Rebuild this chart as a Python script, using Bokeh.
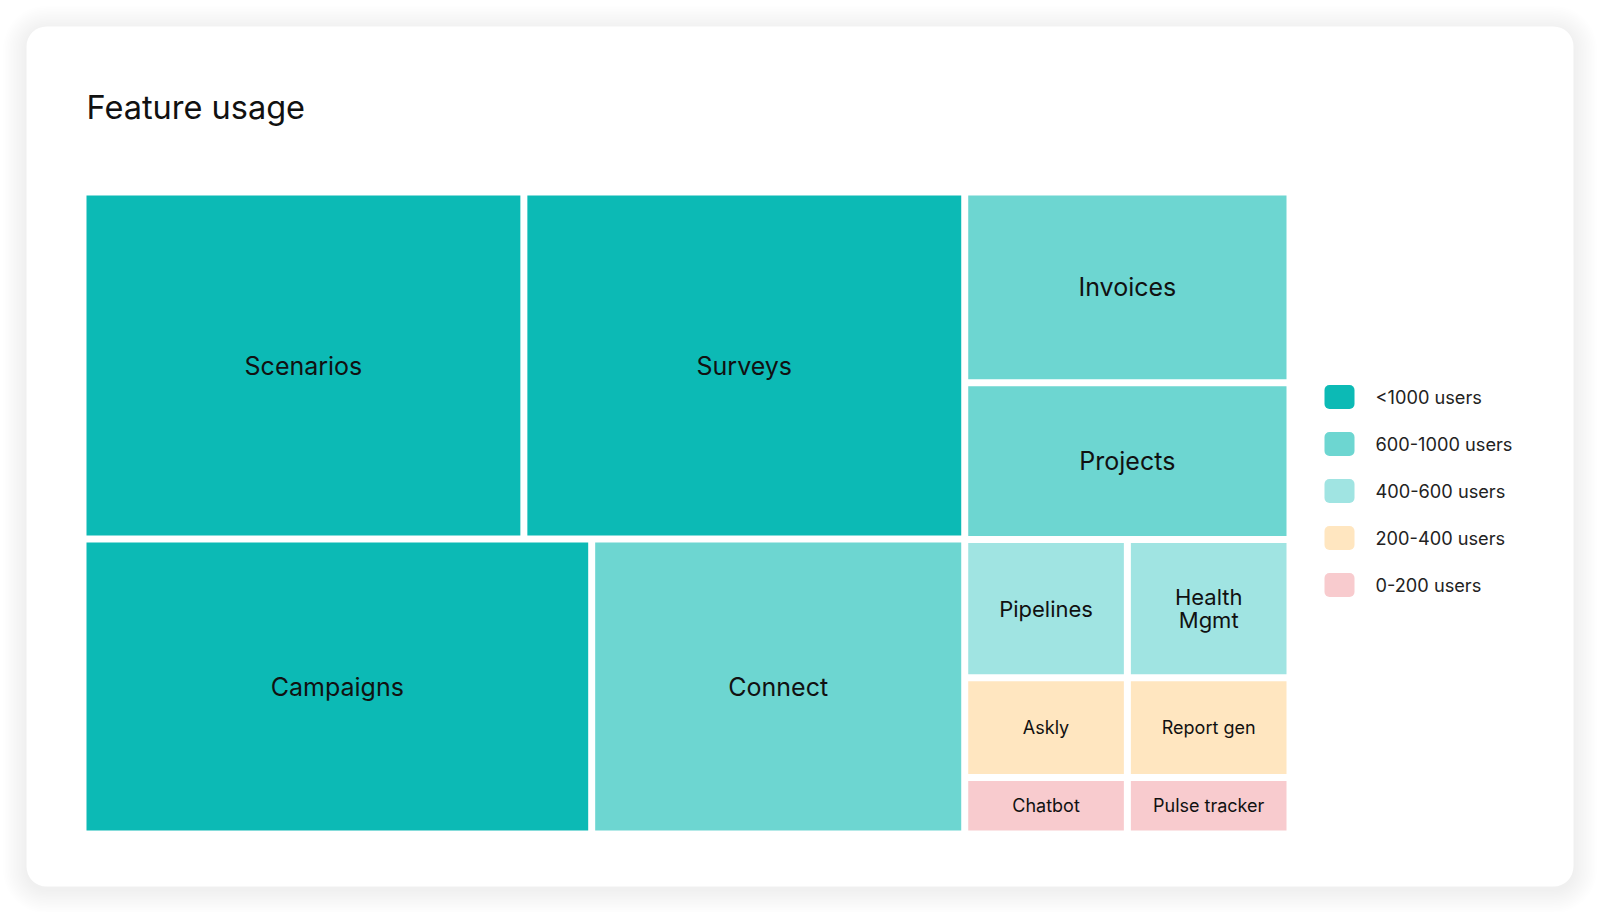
from bokeh.plotting import figure
from bokeh.models import Range1d, BoxAnnotation, ColumnDataSource
from bokeh.core.properties import value
from bokeh.embed import file_html
from bokeh.resources import INLINE

# ---------------- data ----------------
title = "Feature usage"
names = ["Scenarios", "Surveys", "Campaigns", "Connect", "Invoices", "Projects",
         "Pipelines", "Health\nMgmt", "Askly", "Report gen", "Chatbot", "Pulse tracker"]
# relative cell sizes
weights = [1530, 1530, 1500, 1100, 620, 510, 225, 225, 162, 162, 92, 92]
# usage tier index of each feature
tiers = [0, 0, 0, 1, 1, 1, 2, 2, 3, 3, 4, 4]
tier_labels = ["<1000 users", "600-1000 users", "400-600 users", "200-400 users", "0-200 users"]
tier_colors = ["#0cbab5", "#6dd6d1", "#a0e4e2", "#ffe6c0", "#f8cbce"]

# arrangement of the treemap (h = side by side, v = stacked)
tree = ("h", [("v", [("h", [0, 1]), ("h", [2, 3])]),
              ("v", [4, 5, ("h", [6, 7]), ("h", [8, 9]), ("h", [10, 11])])])

# ---------------- layout ----------------
GAP = 7
X0, X1, Y0, Y1 = 86 - GAP / 2, 1286 + GAP / 2, 195 - GAP / 2, 830 + GAP / 2


def total(node):
    if isinstance(node, int):
        return weights[node]
    return sum(total(c) for c in node[1])


cells = {}


def place(node, x0, x1, y0, y1):
    if isinstance(node, int):
        cells[node] = (x0, x1, y0, y1)
        return
    orient, children = node
    s = sum(total(c) for c in children)
    pos = x0 if orient == "h" else y0
    for c in children:
        frac = total(c) / s
        if orient == "h":
            w = (x1 - x0) * frac
            place(c, pos, pos + w, y0, y1)
            pos += w
        else:
            h = (y1 - y0) * frac
            place(c, x0, x1, pos, pos + h)
            pos += h


place(tree, X0, X1, Y0, Y1)

left, right, top, bottom, cx, cy, fs, col = [], [], [], [], [], [], [], []
for i in range(len(names)):
    x0, x1, y0, y1 = cells[i]
    l, r, t, b = x0 + GAP / 2, x1 - GAP / 2, y0 + GAP / 2, y1 - GAP / 2
    left.append(l); right.append(r); top.append(t); bottom.append(b)
    cx.append((l + r) / 2); cy.append((t + b) / 2)
    h = b - t
    fs.append("25px" if h > 140 else ("22px" if h > 100 else "18px"))
    col.append(tier_colors[tiers[i]])

src = ColumnDataSource(dict(left=left, right=right, top=top, bottom=bottom,
                            cx=cx, cy=cy, fs=fs, col=col, name=names))

W, H = 1600, 912
p = figure(width=W, height=H, output_backend="svg", toolbar_location=None,
           x_range=Range1d(0, W), y_range=Range1d(H, 0),
           min_border=0, outline_line_color=None,
           background_fill_color="#ffffff", border_fill_color="#ffffff")
p.axis.visible = False
p.grid.visible = False

# card shadow
CL, CR, CT, CB = 26, 1573, 26, 886
for k in range(1, 16):
    s = k * 1.6
    p.add_layout(BoxAnnotation(left=CL - s, right=CR + s, top=CT - s + 3, bottom=CB + s + 3,
                               fill_color="black", fill_alpha=0.0045, line_color=None,
                               border_radius=int(round(20 + s)), level="underlay"))
p.add_layout(BoxAnnotation(left=CL, right=CR, top=CT, bottom=CB, fill_color="white",
                           fill_alpha=1.0, line_color=None, border_radius=20, level="underlay"))

# treemap cells
p.quad(left="left", right="right", top="top", bottom="bottom", source=src,
       fill_color="col", line_color=None)
p.text(x="cx", y="cy", text="name", source=src, text_align="center", text_baseline="middle",
       text_font=value("Inter"), text_font_size="fs", text_color="#111111",
       text_line_height=0.9)

# title
p.text(x=[86], y=[107], text=[title], text_font=value("Inter"), text_font_size="32.5px",
       text_color="#111111", text_baseline="middle", text_align="left")

# legend
LX, LY, DY = 1324, 396.5, 47
for i, (lab, c) in enumerate(zip(tier_labels, tier_colors)):
    yc = LY + DY * i
    p.add_layout(BoxAnnotation(left=LX, right=LX + 30, top=yc - 12, bottom=yc + 12,
                               fill_color=c, fill_alpha=1.0, line_color=None, border_radius=5))
p.text(x=[LX + 51] * len(tier_labels), y=[LY + DY * i for i in range(len(tier_labels))],
       text=tier_labels, text_font=value("Inter"), text_font_size="18.2px",
       text_color="#222222", text_baseline="middle", text_align="left")

open("out.html", "w").write(file_html(p, INLINE))
